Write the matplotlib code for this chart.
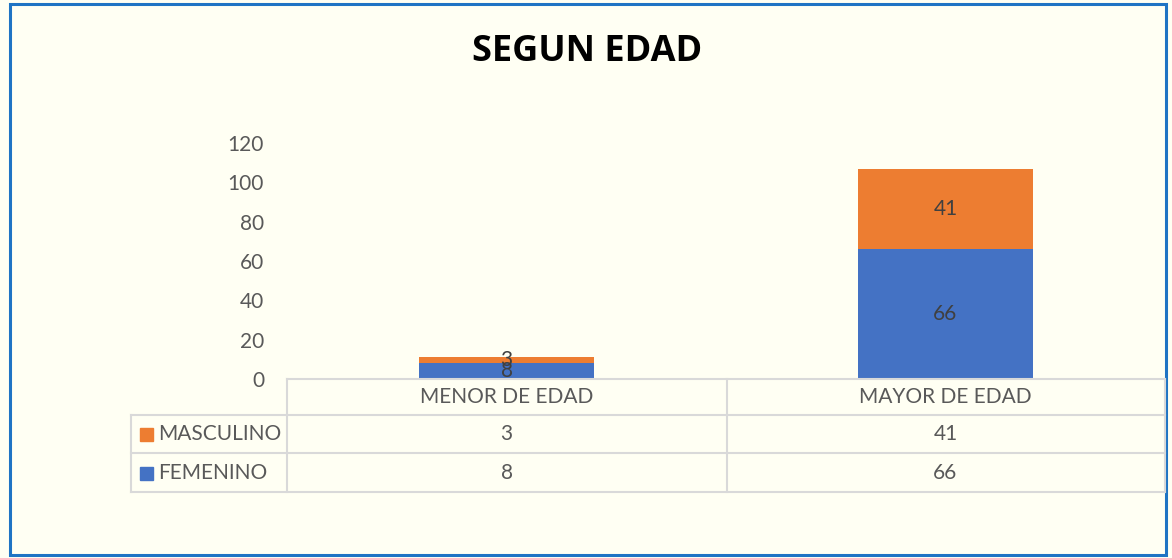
import matplotlib.pyplot as plt
from matplotlib.lines import Line2D
from matplotlib.patches import Rectangle
from matplotlib.transforms import blended_transform_factory
import numpy as np

# data
categories = ["MENOR DE EDAD", "MAYOR DE EDAD"]
series_names = ["MASCULINO", "FEMENINO"]
masculino = [3, 41]
femenino = [8, 66]
title = "SEGUN EDAD"

blue = "#4472C4"
orange = "#ED7D31"
grid_col = "#D9D9D9"
txt_col = "#595959"
bg = "#FFFFF3"
fs = 15

plt.rcParams['font.family'] = ['Lato', 'DejaVu Sans']

W, H = 1172, 558
fig = plt.figure(figsize=(W / 100, H / 100), dpi=100, facecolor=bg)

def fx(x):
    return x / W

def fy(y):
    return 1 - y / H

# plot area (pixel edges from the reference)
L, R, T, B = 287, 1165, 143, 379
ax = fig.add_axes([fx(L), fy(B), fx(R) - fx(L), fy(T) - fy(B)])
ax.set_facecolor(bg)

x = np.arange(len(categories))
ax.bar(x, femenino, width=0.4, color=blue)
ax.bar(x, masculino, width=0.4, bottom=femenino, color=orange)

for i in range(len(x)):
    ax.text(x[i], femenino[i] / 2, str(femenino[i]), ha='center', va='center',
            fontsize=fs, color="#404040")
    ax.text(x[i], femenino[i] + masculino[i] / 2, str(masculino[i]), ha='center',
            va='center', fontsize=fs, color="#404040")

ax.set_xlim(-0.5, len(categories) - 0.5)
ax.set_ylim(0, 120)
ax.set_yticks(range(0, 121, 20))
ax.tick_params(axis='y', length=0, pad=16.5, labelsize=fs, labelcolor=txt_col)
ax.set_xticks([])
for s in ax.spines.values():
    s.set_visible(False)

fig.text(fx(587), fy(52), title, ha='center', va='center', fontsize=26,
         fontweight='bold', color='black', family=['Open Sans', 'DejaVu Sans'])

# data table under the axis
def hline(y, x0, x1):
    fig.add_artist(Line2D([fx(x0), fx(x1)], [fy(y), fy(y)], color=grid_col, lw=1.5))

def vline(xp, y0, y1):
    fig.add_artist(Line2D([fx(xp), fx(xp)], [fy(y0), fy(y1)], color=grid_col, lw=1.5))

hline(379, L, R)
for yy in (415, 453, 492):
    hline(yy, 131, R)
vline(131, 415, 492)
vline(L, 379, 492)
vline(727, 379, 492)
vline(R, 379, 492)

tr = blended_transform_factory(ax.transData, fig.transFigure)
for i, c in enumerate(categories):
    ax.text(x[i], fy(397), c, transform=tr, ha='center', va='center',
            fontsize=fs, color=txt_col, clip_on=False)
    ax.text(x[i], fy(434), str(masculino[i]), transform=tr, ha='center', va='center',
            fontsize=fs, color=txt_col, clip_on=False)
    ax.text(x[i], fy(473), str(femenino[i]), transform=tr, ha='center', va='center',
            fontsize=fs, color=txt_col, clip_on=False)

for name, col, yc in zip(series_names, [orange, blue], [434, 473]):
    fig.add_artist(Rectangle((fx(140), fy(yc + 6.5)), fx(13), 13 / H,
                             transform=fig.transFigure, color=col))
    fig.text(fx(158), fy(yc), name, ha='left', va='center', fontsize=fs, color=txt_col)

# outer border
fig.add_artist(Rectangle((fx(10), fy(555)), fx(1156), 551 / H, transform=fig.transFigure,
                         fill=False, edgecolor="#1F74C4", lw=2.2))

fig.savefig("out.png", dpi=100, facecolor=bg)
